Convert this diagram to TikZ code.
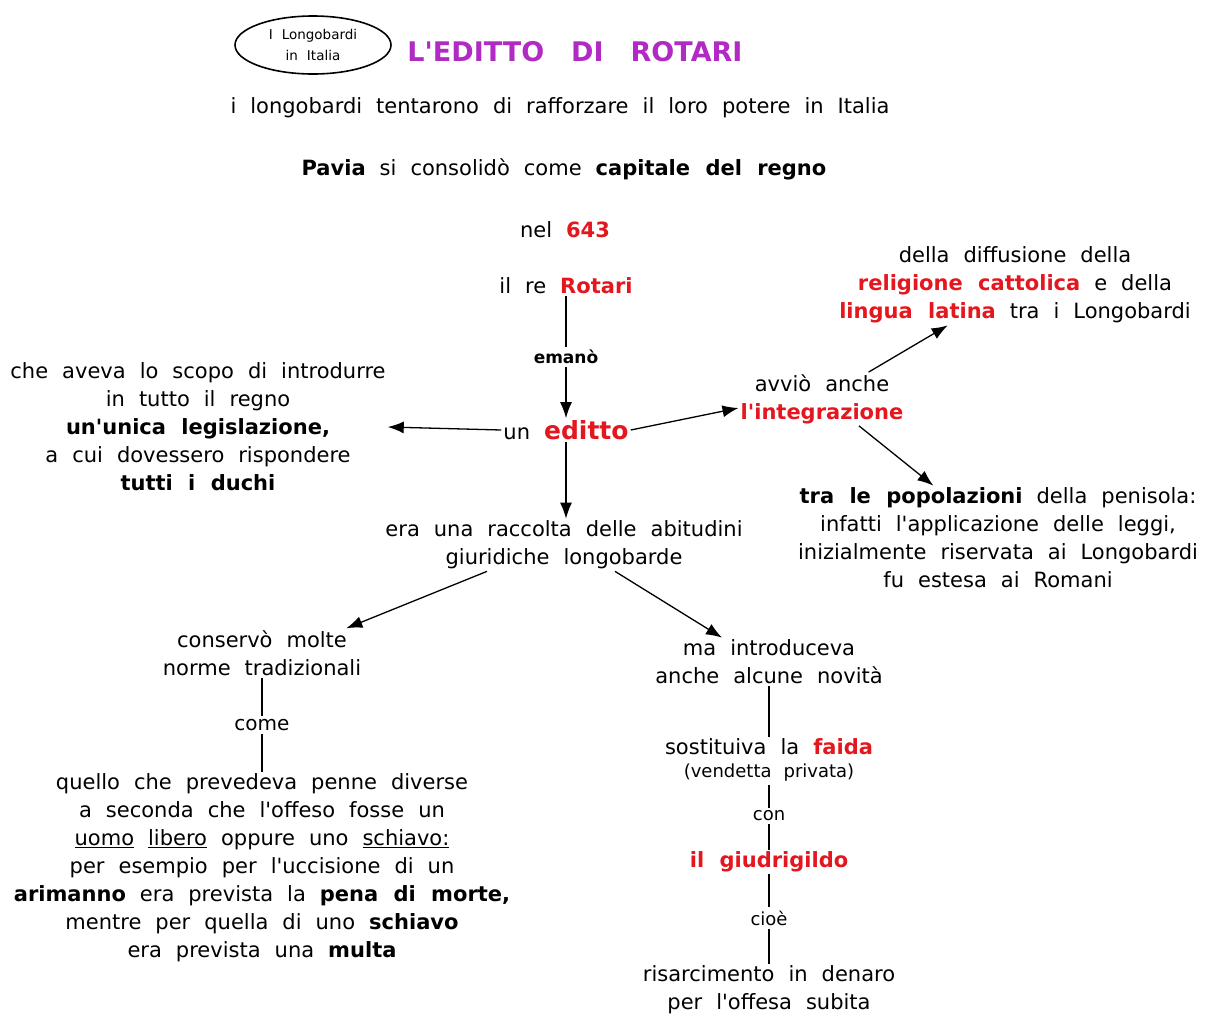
\documentclass[tikz,border=0pt]{standalone}
\usepackage{fontspec}
\setmainfont[WordSpace=2.1,Ligatures=TeXOff]{DejaVu Sans}
\usetikzlibrary{arrows.meta,shapes.geometric}
\definecolor{rosso}{RGB}{228,22,30}
\definecolor{viola}{RGB}{178,42,196}
\newcommand{\rb}[1]{{\bfseries\color{rosso}#1}}

\begin{document}
\begin{tikzpicture}[x=1pt,y=-1pt,
    testo/.style={align=center, inner sep=2pt, font=\fontsize{21}{28}\selectfont},
    piccolo/.style={inner sep=3pt, font=\fontsize{18}{20}\selectfont},
    ovale/.style={ellipse, draw, line width=1.6pt, align=center, inner sep=0pt,
                  minimum width=156pt, minimum height=58pt, font=\fontsize{13.5}{21}\selectfont},
    freccia/.style={line width=1.3pt, -{Latex[length=16pt,width=12pt]}},
    linea/.style={line width=1.3pt}]
   \useasboundingbox (0,0) rectangle (1210,1015);

   % titolo
   \node[ovale] (longob) at (313,45) {I\ Longobardi\\in\ Italia};
   \node[font=\fontsize{27}{30}\selectfont\bfseries, text=viola] (titolo) at (575,52) {L'EDITTO\quad DI\quad ROTARI};

   \node[testo] (tentarono) at (560,108) {i longobardi tentarono di rafforzare il loro potere in Italia};
   \node[testo] (pavia) at (564,169) {\textbf{Pavia} si consolidò come \textbf{capitale del regno}};
   \node[testo] (anno) at (565,230) {nel \rb{643}};
   \node[testo] (rotari) at (566,286) {il re \rb{Rotari}};
   \node[piccolo, font=\fontsize{17}{18}\selectfont\bfseries] (emano) at (566,357) {emanò};
   \node[testo] (editto) at (566,430) {un \rb{\fontsize{25}{28}\selectfont editto}};

   % sinistra
   \node[testo] (scopo) at (198,427) {che aveva lo scopo di introdurre\\in tutto il regno\\
      \textbf{un'unica legislazione,}\\a cui dovessero rispondere\\\textbf{tutti i duchi}};

   % destra
   \node[testo] (integr) at (822,399) {avviò anche\\\rb{l'integrazione}};
   \node[testo] (diffus) at (1015,285) {della diffusione della\\\rb{religione cattolica} e della\\
      \rb{lingua latina} tra i Longobardi};
   \node[testo] (popol) at (998,538) {\textbf{tra le popolazioni} della penisola:\\
      infatti l'applicazione delle leggi,\\inizialmente riservata ai Longobardi\\fu estesa ai Romani};

   % centro
   \node[testo] (raccolta) at (564,545) {era una raccolta delle abitudini\\giuridiche longobarde};
   \node[testo] (conservo) at (262,653) {conservò molte\\norme tradizionali};
   \node[piccolo, font=\fontsize{20}{20}\selectfont] (come) at (262,725) {come};
   \node[testo] (quello) at (262,868) {quello che prevedeva penne diverse\\a seconda che l'offeso fosse un\\
      \underline{uomo}\ \underline{libero} oppure uno \underline{schiavo:}\\per esempio per l'uccisione di un\\
      \textbf{arimanno} era prevista la \textbf{pena di morte,}\\mentre per quella di uno \textbf{schiavo}\\
      era prevista una \textbf{multa}};

   \node[testo] (novita) at (769,662) {ma introduceva\\anche alcune novità};
   \node[testo] (faida) at (769,747) {sostituiva la \rb{faida}};
   \node[piccolo] (vendetta) at (769,773) {(vendetta privata)};
   \node[piccolo] (con) at (769,816) {con};
   \node[testo] (giudri) at (769,862) {\rb{il giudrigildo}};
   \node[piccolo] (cioe) at (769,918) {cioè};
   \node[testo] (risarc) at (769,990) {risarcimento in denaro\\per l'offesa subita};

   % connettori
   \draw[linea] (rotari) -- (emano);
   \draw[freccia] (emano) -- (editto);
   \draw[freccia] (editto.west) -- (scopo.east);
   \draw[freccia] (editto.east) -- ([yshift=-9pt]integr.west);
   \draw[freccia] (integr.30) -- (diffus.211);
   \draw[freccia] (integr.-36) -- (popol.141);
   \draw[freccia] (editto.south) -- (editto.south |- raccolta.north);
   \draw[freccia] ([xshift=-77pt]raccolta.south) -- ([xshift=-17pt]conservo.north east);
   \draw[freccia] ([xshift=51pt]raccolta.south) -- ([xshift=-47pt]novita.north);
   \draw[linea] (conservo) -- (come);
   \draw[linea] (come) -- (quello);
   \draw[linea] (novita) -- (faida);
   \draw[linea] (vendetta) -- (con);
   \draw[linea] (con) -- (giudri);
   \draw[linea] (giudri) -- (cioe);
   \draw[linea] (cioe) -- (risarc);
\end{tikzpicture}
\end{document}
